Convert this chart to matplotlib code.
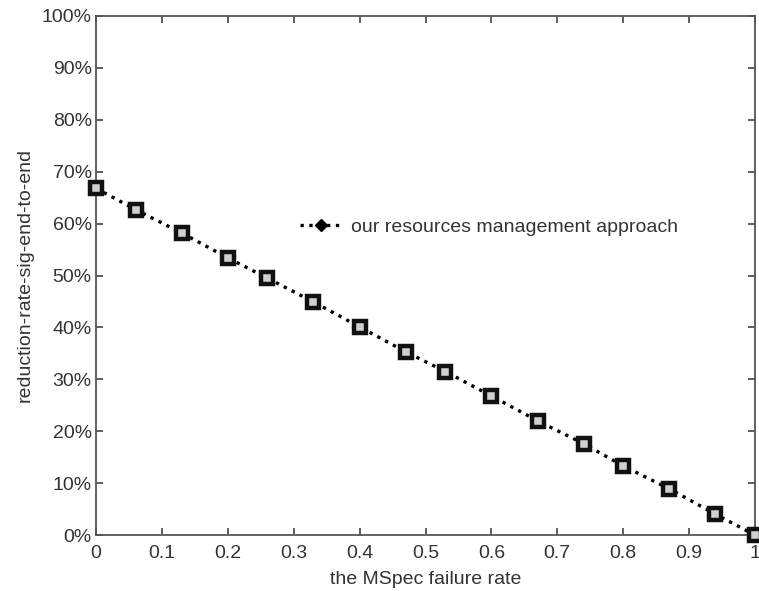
import numpy as np
import matplotlib.pyplot as plt
from matplotlib.lines import Line2D
from matplotlib.ticker import FuncFormatter

plt.rcParams['font.family'] = ['Liberation Sans', 'DejaVu Sans']

# MSpec failure rate vs. reduction rate (%)
failure_rate = [0, 0.06, 0.13, 0.2, 0.26, 0.33, 0.4, 0.47, 0.53, 0.6, 0.67, 0.74, 0.8, 0.87, 0.94, 1.0]
reduction = [66.8, 62.7, 58.2, 53.4, 49.5, 44.9, 40.1, 35.3, 31.5, 26.8, 22.0, 17.6, 13.3, 8.9, 4.0, 0.0]
series_label = "our resources management approach"

fig = plt.figure(figsize=(7.59, 5.91), dpi=100)
ax = fig.add_axes([96/759, 56/591, 659/759, 519/591])

ax.plot(failure_rate, reduction, color='black', linestyle=':', linewidth=2.4,
        marker='s', markersize=8, markerfacecolor='#d0d0d0', markeredgecolor='#111111',
        markeredgewidth=3.2, clip_on=False, zorder=3)

ax.set_xlim(0, 1)
ax.set_ylim(0, 100)
ax.set_xticks(np.arange(0, 1.01, 0.1))
ax.xaxis.set_major_formatter(FuncFormatter(lambda v, p: "0" if v == 0 else ("1" if abs(v-1) < 1e-9 else f"{v:.1f}")))
ax.set_yticks(np.arange(0, 101, 10))
ax.yaxis.set_major_formatter(FuncFormatter(lambda v, p: f"{int(v)}%"))
ax.tick_params(axis='both', direction='in', top=True, right=True, length=5, width=1.2,
               labelsize=14, colors='#444444', labelcolor='#333333')
ax.tick_params(axis='x', pad=7)
ax.tick_params(axis='y', pad=3)
for s in ax.spines.values():
    s.set_color('#555555')
    s.set_linewidth(1.3)

ax.set_xlabel("the MSpec failure rate", fontsize=14, color='#333333', labelpad=7)
ax.set_ylabel("reduction-rate-sig-end-to-end", fontsize=14, color='#333333', labelpad=6)

handle = Line2D([], [], color='black', linestyle=':', linewidth=2.4,
                marker='D', markersize=6, markerfacecolor='black', markeredgecolor='black')
ax.legend([handle], [series_label], loc='center left', bbox_to_anchor=(0.283, 0.593),
          frameon=False, fontsize=14, handlelength=2.2, handletextpad=0.4,
          labelcolor='#333333')

plt.savefig("out.png", dpi=100)
